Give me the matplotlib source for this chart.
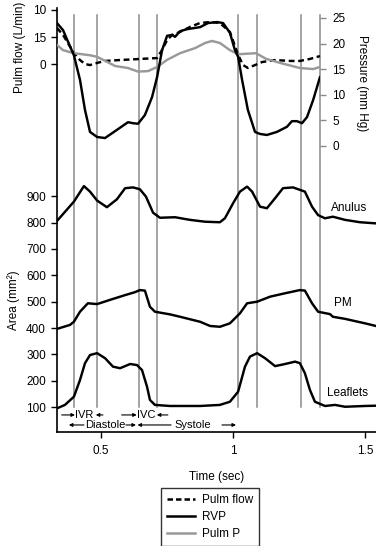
import matplotlib
matplotlib.use("Agg")
import matplotlib.pyplot as plt
from matplotlib.lines import Line2D

plt.rcParams['font.family'] = ['Liberation Sans', 'DejaVu Sans']
plt.rcParams['font.size'] = 8.5

# --- data ---------------------------------------------------------------
# pressure traces (mm Hg)
rvp_t = [0.333, 0.356, 0.397, 0.420, 0.439, 0.458, 0.485, 0.515, 0.560, 0.602,
         0.621, 0.640, 0.666, 0.693, 0.712, 0.731, 0.750, 0.769, 0.780, 0.799,
         0.825, 0.875, 0.905, 0.939, 0.962, 0.988, 1.007, 1.019, 1.034, 1.056,
         1.083, 1.102, 1.128, 1.166, 1.204, 1.223, 1.242, 1.261, 1.280, 1.303, 1.329]
rvp = [24.0, 22.6, 17.7, 12.9, 7.0, 2.7, 1.7, 1.5, 3.1, 4.6,
       4.4, 4.3, 6.0, 9.5, 13.4, 18.7, 21.5, 21.7, 21.3, 22.4,
       22.8, 23.2, 24.0, 24.2, 24.0, 22.1, 18.7, 17.4, 12.9, 7.0,
       2.7, 2.3, 2.1, 2.7, 3.7, 4.8, 4.8, 4.4, 5.6, 8.9, 13.4]

pulm_p_t = [0.333, 0.356, 0.397, 0.458, 0.485, 0.553, 0.602, 0.640, 0.678, 0.712,
            0.750, 0.799, 0.856, 0.894, 0.920, 0.950, 0.988, 1.019, 1.087, 1.125,
            1.178, 1.253, 1.303, 1.329]
pulm_p = [19.7, 18.7, 18.1, 17.7, 17.4, 15.6, 15.2, 14.5, 14.6, 15.4,
          16.8, 18.1, 19.1, 20.1, 20.5, 20.1, 18.7, 17.9, 18.1, 17.0,
          16.2, 15.2, 15.0, 15.4]

# pulmonary flow (L/min)
flow_t = [0.333, 0.356, 0.397, 0.420, 0.439, 0.458, 0.485, 0.515, 0.572, 0.647,
          0.712, 0.731, 0.750, 0.769, 0.799, 0.837, 0.875, 0.913, 0.950, 0.988,
          1.019, 1.038, 1.056, 1.083, 1.110, 1.159, 1.216, 1.253, 1.291, 1.329]
flow = [20.0, 16.1, 6.1, 2.2, 0.0, -0.6, 0.6, 1.7, 2.2, 2.8,
        3.3, 7.8, 13.3, 16.1, 17.8, 20.6, 22.8, 23.3, 22.8, 17.8,
        5.0, -0.6, -2.2, -0.6, 1.1, 2.2, 1.7, 1.7, 2.8, 4.4]

# areas (mm^2)
anulus_t = [0.333, 0.397, 0.435, 0.458, 0.485, 0.522, 0.560, 0.591, 0.621, 0.647,
            0.670, 0.697, 0.723, 0.780, 0.837, 0.894, 0.950, 0.969, 1.000, 1.026,
            1.053, 1.072, 1.102, 1.128, 1.159, 1.189, 1.227, 1.272, 1.299, 1.322,
            1.348, 1.378, 1.424, 1.481, 1.537]
anulus = [806, 879, 938, 917, 883, 858, 888, 930, 933, 926,
          898, 837, 818, 820, 810, 803, 801, 816, 873, 917,
          936, 917, 860, 854, 892, 930, 933, 917, 860, 828,
          816, 822, 810, 801, 797]

pm_t = [0.333, 0.382, 0.397, 0.420, 0.450, 0.485, 0.534, 0.591, 0.628, 0.647,
        0.666, 0.685, 0.704, 0.761, 0.799, 0.875, 0.913, 0.950, 0.988, 1.026,
        1.053, 1.091, 1.140, 1.197, 1.253, 1.272, 1.299, 1.322, 1.367, 1.378,
        1.424, 1.500, 1.541]
pm = [397, 412, 424, 462, 494, 491, 507, 525, 536, 544,
      542, 481, 462, 452, 443, 424, 408, 405, 418, 456,
      494, 500, 519, 532, 544, 542, 494, 462, 453, 443,
      435, 418, 408]

leaf_t = [0.333, 0.363, 0.397, 0.420, 0.439, 0.458, 0.485, 0.515, 0.545, 0.572,
          0.610, 0.636, 0.655, 0.674, 0.685, 0.704, 0.761, 0.875, 0.950, 0.988,
          1.019, 1.045, 1.064, 1.091, 1.121, 1.159, 1.197, 1.235, 1.253, 1.272,
          1.291, 1.310, 1.348, 1.386, 1.424, 1.500, 1.541]
leaflets = [96, 109, 140, 203, 267, 298, 305, 286, 254, 248,
            264, 260, 241, 178, 128, 109, 105, 105, 109, 121,
            159, 254, 292, 305, 286, 256, 264, 273, 267, 229,
            166, 121, 105, 109, 102, 105, 106]

# cardiac event markers (sec)
events = [0.397, 0.484, 0.643, 0.712, 1.018, 1.090, 1.257, 1.331]

area_ticks = [100, 200, 300, 400, 500, 600, 700, 800, 900]
flow_ticks = [0, 15, 30]
flow_tick_labels = ['0', '15', '10']
press_ticks = [0, 5, 10, 15, 20, 25]

# --- figure ------------------------------------------------------------
W, H = 376, 546
fig = plt.figure(figsize=(W / 100, H / 100), dpi=100)

x0, x1, yb, yt = 57, 376, 432, 8   # pixel frame of the axes
pos = [x0 / W, 1 - yb / H, (x1 - x0) / W, (yb - yt) / H]
t0 = 0.333
px_per_s = 264.0
t1 = t0 + (x1 - x0) / px_per_s
LW = 1.75

ax = fig.add_axes(pos)
ax.set_xlim(t0, t1)
ax.set_ylim(6.4, 1612.6)
for s in ['top', 'right']:
    ax.spines[s].set_visible(False)
for s in ['left', 'bottom']:
    ax.spines[s].set_linewidth(1.2)
ax.set_yticks(area_ticks)
ax.set_xticks([0.5, 1, 1.5])
ax.set_xticklabels(['0.5', '1', '1.5'])
ax.tick_params(axis='both', length=4.5, width=1.0, pad=3.5, labelsize=8.5)
ax.tick_params(axis='x', pad=5)
ax.set_xlabel('Time (sec)', fontsize=8.5, labelpad=10)
ax.set_ylabel('Area (mm²)', fontsize=8.5)
ax.yaxis.set_label_coords(-0.115, 0.311)

for ev in events:
    ax.axvline(ev, ymin=0.059, ymax=0.983, color='#8a8a8a', lw=1.1, zorder=1)

ax.plot(anulus_t, anulus, color='black', lw=LW, zorder=3)
ax.plot(pm_t, pm, color='black', lw=LW, zorder=3)
ax.plot(leaf_t, leaflets, color='black', lw=LW, zorder=3)
ax.text(1.439, 856, 'Anulus', ha='center', va='center', fontsize=8.5)
ax.text(1.416, 495, 'PM', ha='center', va='center', fontsize=8.5)
ax.text(1.435, 154, 'Leaflets', ha='center', va='center', fontsize=8.5)

# phase annotations
arr = dict(arrowstyle='-|>', color='black', lw=0.8,
           mutation_scale=5, shrinkA=0, shrinkB=0)
y1, y2 = 71, 33
row1 = [(0.351, 0.401), (0.507, 0.480), (0.578, 0.635), (0.753, 0.711)]
row2 = [(0.435, 0.378), (0.594, 0.632), (0.765, 0.638), (0.958, 1.011)]
for tail, head in row1:
    ax.annotate('', xy=(head, y1), xytext=(tail, y1), arrowprops=arr)
for tail, head in row2:
    ax.annotate('', xy=(head, y2), xytext=(tail, y2), arrowprops=arr)
ax.text(0.436, y1, 'IVR', ha='center', va='center', fontsize=8)
ax.text(0.672, y1, 'IVC', ha='center', va='center', fontsize=8)
ax.text(0.516, y2, 'Diastole', ha='center', va='center', fontsize=8)
ax.text(0.846, y2, 'Systole', ha='center', va='center', fontsize=8)

# pulmonary flow axis (left, top part)
axf = fig.add_axes(pos, frameon=False)
axf.set_xlim(t0, t1)
axf.set_ylim((64 - yb) / 1.8, (64 - yt) / 1.8)
axf.set_xticks([])
axf.set_yticks(flow_ticks)
axf.set_yticklabels(flow_tick_labels)
axf.tick_params(axis='y', length=4.5, width=1.0, pad=3.5, labelsize=8.5)
axf.plot(flow_t, flow, color='black', lw=LW, ls=(0, (2.4, 1.5)), zorder=4)
axf.set_ylabel('Pulm flow (L/min)', fontsize=8.5)
axf.yaxis.set_label_coords(-0.097, (yb - 47) / (yb - yt))

# pressure axis (right side at last event line)
xr = x0 + (events[-1] - t0) * px_per_s
posp = [x0 / W, 1 - yb / H, (xr - x0) / W, (yb - yt) / H]
axp = fig.add_axes(posp, frameon=False)
axp.set_xlim(t0, events[-1])
axp.set_ylim((145.7 - yb) / 5.11, (145.7 - yt) / 5.11)
axp.set_xticks([])
axp.yaxis.tick_right()
axp.set_yticks(press_ticks)
axp.tick_params(axis='y', length=4.5, width=1.0, pad=4, labelsize=8.5,
                color='#8a8a8a', labelcolor='black')
axp.plot(pulm_p_t, pulm_p, color='#999999', lw=LW, zorder=3)
axp.plot(rvp_t, rvp, color='black', lw=LW, zorder=5)
fig.text(362 / W, 1 - 83 / H, 'Pressure (mm Hg)', rotation=-90,
         ha='center', va='center', fontsize=8.5)

handles = [Line2D([], [], color='black', lw=1.8, ls=(0, (2.2, 1.2))),
           Line2D([], [], color='black', lw=1.8),
           Line2D([], [], color='#999999', lw=1.8)]
leg = fig.legend(handles, ['Pulm flow', 'RVP', 'Pulm P'], loc='center',
                 bbox_to_anchor=(210 / W, 1 - 517 / H), fontsize=8.5,
                 frameon=True, fancybox=False, edgecolor='black',
                 handlelength=2.4, handletextpad=0.6, labelspacing=0.45,
                 borderpad=0.45)
leg.get_frame().set_linewidth(1.0)

fig.savefig('out.png', dpi=100)
